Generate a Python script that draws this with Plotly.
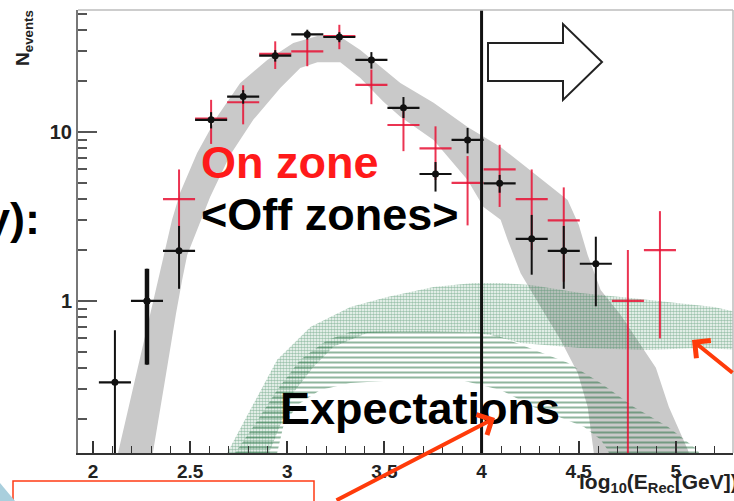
import plotly.graph_objects as go

# ---------------- data ----------------
bin_x = [2.113, 2.278, 2.443, 2.608, 2.773, 2.938, 3.103, 3.268, 3.433, 3.598,
         3.763, 3.928, 4.093, 4.258, 4.423, 4.588, 4.753, 4.918]
half_bin = 0.0825

# <Off zones> (black)
off_x = bin_x[:16]
off_y = [0.33, 1.00, 1.98, 11.8, 16.2, 28.3, 37.8, 36.5, 26.7, 13.9,
         5.64, 8.97, 4.97, 2.33, 1.98, 1.66]
off_err_up = [0.34, 0.55, 0.8, 1.3, 1.5, 2.2, 2.5, 2.5, 3.0, 2.2,
              1.0, 1.6, 0.6, 0.9, 0.8, 0.74]
off_err_dn = [0.329, 0.58, 0.8, 1.3, 1.5, 2.2, 2.5, 2.5, 3.0, 1.8,
              1.2, 1.5, 0.6, 0.9, 0.8, 0.73]

# On zone (red)
on_x = [2.443, 2.608, 2.773, 2.938, 3.103, 3.268, 3.433, 3.598, 3.763, 3.928,
        4.093, 4.258, 4.423, 4.753, 4.918]
on_y = [4, 12, 15, 29, 30, 37, 19, 11, 8, 5, 6, 4, 3, 1, 2]
on_err_up = [2.0, 3.5, 3.9, 5.4, 5.5, 6.1, 4.4, 3.3, 2.8, 2.2, 2.4, 2.0, 1.7, 1.0, 1.4]
on_err_dn = [2.0, 3.5, 3.9, 5.4, 5.5, 6.1, 4.4, 3.3, 2.8, 2.2, 2.4, 2.0, 1.7, 0.999, 1.4]

# grey model band
band_up_x = [2.113, 2.129, 2.216, 2.294, 2.335, 2.371, 2.407, 2.448, 2.536, 2.639,
             2.758, 2.897, 3.031, 3.155, 3.273, 3.376, 3.582, 3.753, 3.928, 4.098,
             4.268, 4.443, 4.500, 4.546, 4.613, 4.716, 4.897, 4.964, 5.062, 5.103]
band_up_y = [0.093, 0.126, 0.341, 0.849, 1.33, 2.00, 3.02, 4.35, 7.51, 12.3,
             19.5, 26.7, 33.6, 37.0, 36.6, 30.6, 19.5, 14.9, 10.7, 8.15,
             5.72, 3.96, 2.82, 1.87, 1.16, 0.826, 0.402, 0.236, 0.131, 0.093]
band_lo_x = [2.289, 2.304, 2.371, 2.428, 2.459, 2.485, 2.536, 2.603, 2.706, 2.825,
             2.964, 3.067, 3.155, 3.273, 3.376, 3.495, 3.582, 3.753, 3.928, 4.010,
             4.098, 4.134, 4.201, 4.304, 4.407, 4.495, 4.546, 4.577, 4.593]
band_lo_y = [0.093, 0.126, 0.341, 0.849, 1.33, 1.87, 2.63, 4.12, 7.31, 11.8,
             18.2, 23.9, 25.9, 25.9, 20.9, 15.1, 12.3, 8.97, 5.20, 3.60,
             3.02, 2.30, 1.46, 0.922, 0.588, 0.375, 0.236, 0.131, 0.093]

# expectation band 1 (dotted)
exp1_up_x = [2.665, 2.691, 2.809, 2.948, 3.119, 3.325, 3.515, 3.753, 3.959, 4.098,
             4.253, 4.510, 4.768, 5.026, 5.196, 5.330]
exp1_up_y = [0.100, 0.126, 0.226, 0.448, 0.702, 0.922, 1.056, 1.21, 1.278, 1.278,
             1.243, 1.115, 1.042, 0.973, 0.922, 0.849]
exp1_lo_x = [2.902, 2.912, 3.031, 3.134, 3.237, 3.412, 3.582, 3.928, 4.046, 4.201,
             4.510, 4.856, 5.113, 5.330]
exp1_lo_y = [0.115, 0.131, 0.286, 0.407, 0.535, 0.647, 0.656, 0.656, 0.629, 0.564,
             0.527, 0.513, 0.527, 0.513]

# expectation band 2 (horizontal hatch)
exp2_up_x = [2.696, 2.732, 2.825, 2.948, 3.067, 3.206, 3.325, 3.582, 4.046, 4.268,
             4.443, 4.613, 4.784, 4.959, 5.113, 5.155]
exp2_up_y = [0.100, 0.126, 0.180, 0.297, 0.448, 0.588, 0.656, 0.674, 0.647, 0.513,
             0.430, 0.327, 0.236, 0.180, 0.131, 0.100]
exp2_lo_x = [2.938, 2.948, 2.979, 3.052, 3.170, 3.325, 3.582, 3.892, 4.098, 4.268,
             4.526, 4.613, 4.649, 4.691]
exp2_lo_y = [0.100, 0.126, 0.180, 0.242, 0.297, 0.327, 0.341, 0.341, 0.297, 0.236,
             0.180, 0.151, 0.131, 0.100]

cut_x = 4.0
x_ticks = [2, 2.5, 3, 3.5, 4, 4.5, 5]
x_ticktext = ["2", "2.5", "3", "3.5", "4", "4.5", "5"]
y_ticks = [1, 10]
y_ticktext = ["1", "10"]
y_minor = [0.2, 0.3, 0.4, 0.5, 0.6, 0.7, 0.8, 0.9,
           2, 3, 4, 5, 6, 7, 8, 9, 20, 30, 40, 50]

# ---------------- layout geometry ----------------
L, T, R, B = 78, 10, 733, 453
W, H = 734, 501


def pxx(v):
    return (v - L) / (R - L)


def pxy(v):
    return (B - v) / (B - T)


FONT = "Liberation Sans, Arial, sans-serif"

fig = go.Figure()

# grey band
fig.add_trace(go.Scatter(
    x=band_up_x + band_lo_x[::-1], y=band_up_y + band_lo_y[::-1],
    fill="toself", fillcolor="#c9c9c9", line=dict(width=0),
    mode="lines", hoverinfo="skip"))

# dotted expectation band
fig.add_trace(go.Scatter(
    x=exp1_up_x + exp1_lo_x[::-1], y=exp1_up_y + exp1_lo_y[::-1],
    fill="toself", fillcolor="rgba(0,0,0,0)", line=dict(width=0),
    fillpattern=dict(shape=".", size=3, solidity=0.6,
                     fgcolor="rgba(40,125,75,0.9)", bgcolor="rgba(255,255,255,0)"),
    mode="lines", hoverinfo="skip"))

# horizontal hatch band
fig.add_trace(go.Scatter(
    x=exp2_up_x + exp2_lo_x[::-1], y=exp2_up_y + exp2_lo_y[::-1],
    fill="toself", fillcolor="rgba(0,0,0,0)", line=dict(width=0),
    fillpattern=dict(shape="-", size=5, solidity=0.4,
                     fgcolor="rgba(20,100,50,0.95)", bgcolor="rgba(255,255,255,0)"),
    mode="lines", hoverinfo="skip"))

# On zone (red crosses)
fig.add_trace(go.Scatter(
    x=on_x, y=on_y, mode="markers",
    marker=dict(size=1, color="rgba(0,0,0,0)"),
    error_y=dict(type="data", array=on_err_up, arrayminus=on_err_dn,
                 color="rgba(232,16,52,0.85)", thickness=2, width=0),
    error_x=dict(type="data", array=[half_bin] * len(on_x),
                 color="rgba(232,16,52,0.85)", thickness=2.2, width=0),
    hoverinfo="skip"))

# Off zones (black)
fig.add_trace(go.Scatter(
    x=off_x, y=off_y, mode="markers",
    marker=dict(size=7, color="#111111"),
    error_y=dict(type="data", array=off_err_up, arrayminus=off_err_dn,
                 color="#111111", thickness=2, width=0),
    error_x=dict(type="data", array=[half_bin] * len(off_x),
                 color="#111111", thickness=2.2, width=0),
    hoverinfo="skip"))
fig.add_trace(go.Scatter(
    x=off_x[1:2], y=off_y[1:2], mode="markers",
    marker=dict(size=7, color="#111111"),
    error_y=dict(type="data", array=off_err_up[1:2], arrayminus=off_err_dn[1:2],
                 color="#111111", thickness=4.5, width=0),
    hoverinfo="skip"))

shapes = [
    # cut line
    dict(type="line", xref="x", yref="paper", x0=cut_x, x1=cut_x, y0=0, y1=1,
         line=dict(color="#111111", width=3)),
    # top / right frame
    dict(type="line", xref="paper", yref="paper", x0=0, x1=1, y0=1, y1=1,
         line=dict(color="#bdbdbd", width=1.5)),
    dict(type="line", xref="paper", yref="paper", x0=1, x1=1, y0=0, y1=1,
         line=dict(color="#bdbdbd", width=1.5)),
    # block arrow
    dict(type="path", xref="paper", yref="paper",
         path=("M {a},{b} L {c},{b} L {c},{d} L {e},{f} L {c},{g} L {c},{h} L {a},{h} Z"
               .format(a=pxx(488), b=pxy(43), c=pxx(563), d=pxy(24),
                       e=pxx(602), f=pxy(62), g=pxy(100), h=pxy(81))),
         fillcolor="white", line=dict(color="#222222", width=2)),
    # slide rectangle
    dict(type="rect", xref="paper", yref="paper",
         x0=pxx(13), x1=pxx(314), y0=pxy(481), y1=pxy(510),
         fillcolor="white", line=dict(color="#ff3b14", width=1.5)),
    # slide decoration corner
    dict(type="path", xref="paper", yref="paper",
         path="M {a},{b} L {c},{d} L {a},{d} Z".format(
             a=pxx(0), b=pxy(483), c=pxx(15), d=pxy(501)),
         fillcolor="#a9cfdd", line=dict(width=0)),
]

big = dict(family=FONT, size=45, weight="bold")
annotations = [
    dict(text="On zone", xref="paper", yref="paper", x=pxx(199), y=pxy(162),
         xanchor="left", yanchor="middle", showarrow=False,
         font=dict(big, color="#ff1a1a")),
    dict(text="<Off zones>", xref="paper", yref="paper", x=pxx(199), y=pxy(214),
         xanchor="left", yanchor="middle", showarrow=False,
         font=dict(big, color="#000000")),
    dict(text="Expectations", xref="paper", yref="paper", x=pxx(278), y=pxy(408),
         xanchor="left", yanchor="middle", showarrow=False,
         font=dict(big, color="#000000")),
    dict(text="y):", xref="paper", yref="paper", x=pxx(42), y=pxy(218),
         xanchor="right", yanchor="middle", showarrow=False,
         font=dict(big, color="#000000")),
    dict(text="N<sub>events</sub>", xref="paper", yref="paper", x=pxx(24), y=pxy(38),
         xanchor="center", yanchor="middle", textangle=-90, showarrow=False,
         font=dict(family=FONT, size=19, weight="bold", color="#222222")),
    dict(text="log<sub>10</sub>(E<sub>Rec</sub>[GeV])", xref="paper", yref="paper",
         x=pxx(577), y=pxy(468), xanchor="left", yanchor="top", showarrow=False,
         font=dict(family=FONT, size=21, weight="bold", color="#222222")),
    # red slide arrows
    dict(text="", xref="paper", yref="paper", x=pxx(495), y=pxy(418),
         ax=-160, ay=90, showarrow=True, arrowhead=4, arrowsize=1.1,
         arrowwidth=4, arrowcolor="#ff3b0a", standoff=0),
    dict(text="", xref="paper", yref="paper", x=pxx(692), y=pxy(340),
         ax=50, ay=34, showarrow=True, arrowhead=4, arrowsize=1.1,
         arrowwidth=4, arrowcolor="#ff3b0a", standoff=0),
]

fig.update_layout(
    width=W, height=H,
    margin=dict(l=L, r=W - R, t=T, b=H - B),
    paper_bgcolor="white", plot_bgcolor="white",
    showlegend=False,
    shapes=shapes, annotations=annotations,
    xaxis=dict(range=[1.923, 5.294], tickvals=x_ticks, ticktext=x_ticktext,
               ticks="inside", ticklen=12, tickwidth=1.5, tickcolor="#333333",
               minor=dict(dtick=0.1, ticks="inside", ticklen=7, tickwidth=1.2,
                          tickcolor="#333333"),
               showline=True, linecolor="#333333", linewidth=2,
               showgrid=False, zeroline=False,
               tickfont=dict(family=FONT, size=19, weight="bold", color="#222222")),
    yaxis=dict(type="log", range=[-0.9, 1.722], tickvals=y_ticks, ticktext=y_ticktext,
               ticks="inside", ticklen=19, tickwidth=1.5, tickcolor="#555555",
               minor=dict(tickvals=y_minor, ticks="inside", ticklen=9, tickwidth=1.5,
                          tickcolor="#555555"),
               showline=True, linecolor="#777777", linewidth=2,
               showgrid=False, zeroline=False,
               tickfont=dict(family=FONT, size=20, weight="bold", color="#222222")),
)

fig.write_html("out.html")
